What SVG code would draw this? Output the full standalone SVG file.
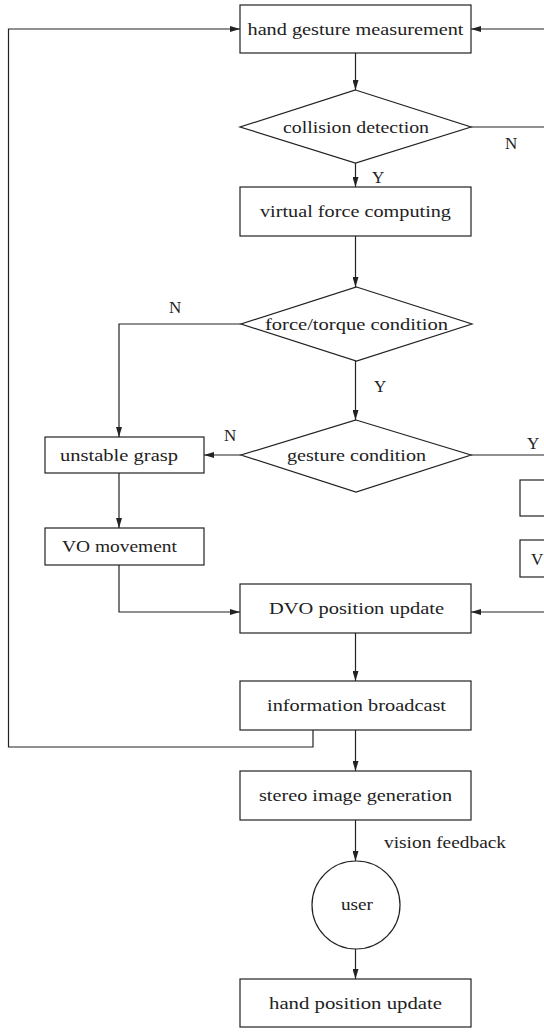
<svg xmlns="http://www.w3.org/2000/svg" width="544" height="1032" viewBox="0 0 544 1032">
<style>
.n{fill:#fff;stroke:#222;stroke-width:1.2}
.c{fill:none;stroke:#222;stroke-width:1.2}
.t{font-family:"Liberation Serif","DejaVu Serif",serif;font-size:17px;fill:#222;text-anchor:middle}
.l{font-family:"Liberation Serif","DejaVu Serif",serif;font-size:17px;fill:#222}
</style>
<defs>
<marker id="ah" markerWidth="10" markerHeight="6" refX="10" refY="3" orient="auto" markerUnits="userSpaceOnUse">
<path d="M0,0 L10,3 L0,6 z" fill="#222"/>
</marker>
</defs>
<rect width="544" height="1032" fill="#fff"/>
<g id="connectors">
<line class="c" x1="355.5" y1="53" x2="355.5" y2="90" marker-end="url(#ah)"/>
<line class="c" x1="355.5" y1="163" x2="355.5" y2="187" marker-end="url(#ah)"/>
<line class="c" x1="355.5" y1="236" x2="355.5" y2="287" marker-end="url(#ah)"/>
<line class="c" x1="355.5" y1="361" x2="355.5" y2="420" marker-end="url(#ah)"/>
<line class="c" x1="471" y1="127" x2="544" y2="127"/>
<line class="c" x1="544" y1="29" x2="471" y2="29" marker-end="url(#ah)"/>
<polyline class="c" points="241,324 119,324 119,437" marker-end="url(#ah)"/>
<line class="c" x1="241" y1="455" x2="204" y2="455" marker-end="url(#ah)"/>
<line class="c" x1="471" y1="455" x2="544" y2="455"/>
<line class="c" x1="119" y1="473" x2="119" y2="528" marker-end="url(#ah)"/>
<polyline class="c" points="119,565 119,612 240,612" marker-end="url(#ah)"/>
<line class="c" x1="544" y1="612" x2="471" y2="612" marker-end="url(#ah)"/>
<line class="c" x1="355.5" y1="633" x2="355.5" y2="681" marker-end="url(#ah)"/>
<polyline class="c" points="313,730 313,747 8.5,747 8.5,29 240,29" marker-end="url(#ah)"/>
<line class="c" x1="355.5" y1="730" x2="355.5" y2="771" marker-end="url(#ah)"/>
<line class="c" x1="355.5" y1="820" x2="355.5" y2="861" marker-end="url(#ah)"/>
<line class="c" x1="355.5" y1="949" x2="355.5" y2="979" marker-end="url(#ah)"/>
<text class="l" x="505" y="149">N</text>
<text class="l" x="372" y="183">Y</text>
<text class="l" x="169" y="313">N</text>
<text class="l" x="374" y="392">Y</text>
<text class="l" x="224" y="441">N</text>
<text class="l" x="527" y="449">Y</text>
<text class="l" x="384" y="848" textLength="122" lengthAdjust="spacingAndGlyphs">vision feedback</text>
</g>
<g id="hand_gesture_measurement">
<rect class="n" x="240" y="5" width="231" height="48"/>
<text class="t" x="355.5" y="35" textLength="216" lengthAdjust="spacingAndGlyphs">hand gesture measurement</text>
</g>
<g id="collision_detection">
<polygon class="n" points="355.5,90 471,127 355.5,163 240,127"/>
<text class="t" x="356" y="133" textLength="146" lengthAdjust="spacingAndGlyphs">collision detection</text>
</g>
<g id="virtual_force_computing">
<rect class="n" x="240" y="187" width="231" height="49"/>
<text class="t" x="355.5" y="217" textLength="191" lengthAdjust="spacingAndGlyphs">virtual force computing</text>
</g>
<g id="force_torque_condition">
<polygon class="n" points="356.5,287 472,324 356.5,361 241,324"/>
<text class="t" x="356.5" y="330" textLength="183" lengthAdjust="spacingAndGlyphs">force/torque condition</text>
</g>
<g id="gesture_condition">
<polygon class="n" points="356,420 471,455 356,492 241,455"/>
<text class="t" x="356.5" y="461" textLength="139" lengthAdjust="spacingAndGlyphs">gesture condition</text>
</g>
<g id="unstable_grasp">
<rect class="n" x="45" y="437" width="159" height="36"/>
<text class="t" x="119" y="461" textLength="118" lengthAdjust="spacingAndGlyphs">unstable grasp</text>
</g>
<g id="vo_movement">
<rect class="n" x="45" y="528" width="159" height="37"/>
<text class="t" x="119.5" y="552" textLength="115" lengthAdjust="spacingAndGlyphs">VO movement</text>
</g>
<g id="right_box_1">
<rect class="n" x="520" y="480" width="40" height="36"/>
</g>
<g id="right_box_2">
<rect class="n" x="520" y="540" width="40" height="37"/>
<text class="l" x="531" y="565">V</text>
</g>
<g id="dvo_position_update">
<rect class="n" x="240" y="584" width="231" height="49"/>
<text class="t" x="356.5" y="614" textLength="175" lengthAdjust="spacingAndGlyphs">DVO position update</text>
</g>
<g id="information_broadcast">
<rect class="n" x="240" y="681" width="231" height="49"/>
<text class="t" x="356.5" y="711" textLength="179" lengthAdjust="spacingAndGlyphs">information broadcast</text>
</g>
<g id="stereo_image_generation">
<rect class="n" x="240" y="771" width="231" height="49"/>
<text class="t" x="355.5" y="801" textLength="193" lengthAdjust="spacingAndGlyphs">stereo image generation</text>
</g>
<g id="user">
<circle class="n" cx="356" cy="905" r="44"/>
<text class="t" x="357" y="910" textLength="32" lengthAdjust="spacingAndGlyphs">user</text>
</g>
<g id="hand_position_update">
<rect class="n" x="240" y="979" width="231" height="48"/>
<text class="t" x="355.5" y="1009" textLength="173" lengthAdjust="spacingAndGlyphs">hand position update</text>
</g>
</svg>
